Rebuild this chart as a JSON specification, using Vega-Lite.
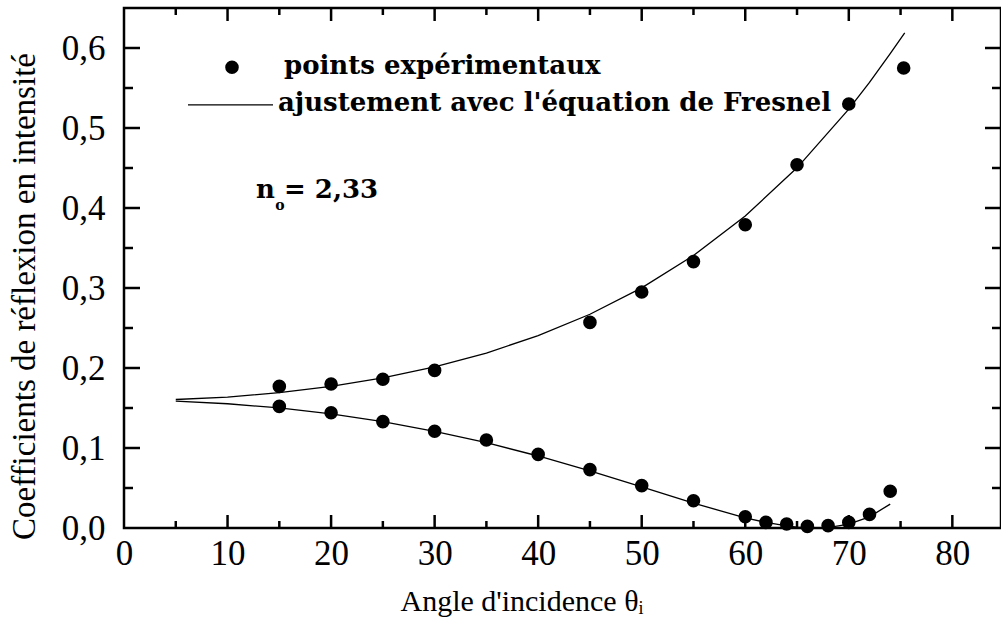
{
  "$schema": "https://vega.github.io/schema/vega-lite/v6.json",
  "width": 877,
  "height": 520,
  "autosize": {"type": "none"},
  "padding": {"left": 124, "top": 8, "right": 0, "bottom": 100},
  "background": "white",
  "config": {
    "view": {"stroke": "black", "strokeWidth": 2.5},
    "axis": {
      "grid": false,
      "domain": false,
      "ticks": false,
      "tickSize": 0,
      "labelFlush": false,
      "labelOverlap": false,
      "labelColor": "black",
      "labelFont": "Liberation Serif",
      "labelFontSize": 35,
      "titleColor": "black",
      "titleFont": "Liberation Serif",
      "titleFontWeight": "normal"
    }
  },
  "datasets": {
    "fit": [
      {"angle": 5, "R": 0.1606, "pol": "s"},
      {"angle": 10, "R": 0.1637, "pol": "s"},
      {"angle": 15, "R": 0.1692, "pol": "s"},
      {"angle": 20, "R": 0.1770, "pol": "s"},
      {"angle": 25, "R": 0.1876, "pol": "s"},
      {"angle": 30, "R": 0.2013, "pol": "s"},
      {"angle": 35, "R": 0.2187, "pol": "s"},
      {"angle": 40, "R": 0.2404, "pol": "s"},
      {"angle": 45, "R": 0.2672, "pol": "s"},
      {"angle": 50, "R": 0.3001, "pol": "s"},
      {"angle": 55, "R": 0.3406, "pol": "s"},
      {"angle": 60, "R": 0.3900, "pol": "s"},
      {"angle": 65, "R": 0.4502, "pol": "s"},
      {"angle": 70, "R": 0.5235, "pol": "s"},
      {"angle": 72, "R": 0.5570, "pol": "s"},
      {"angle": 74, "R": 0.5931, "pol": "s"},
      {"angle": 75.4, "R": 0.6190, "pol": "s"},
      {"angle": 5, "R": 0.1585, "pol": "p"},
      {"angle": 10, "R": 0.1553, "pol": "p"},
      {"angle": 15, "R": 0.1501, "pol": "p"},
      {"angle": 20, "R": 0.1426, "pol": "p"},
      {"angle": 25, "R": 0.1329, "pol": "p"},
      {"angle": 30, "R": 0.1209, "pol": "p"},
      {"angle": 35, "R": 0.1066, "pol": "p"},
      {"angle": 40, "R": 0.0900, "pol": "p"},
      {"angle": 45, "R": 0.0714, "pol": "p"},
      {"angle": 50, "R": 0.0513, "pol": "p"},
      {"angle": 55, "R": 0.0310, "pol": "p"},
      {"angle": 60, "R": 0.0128, "pol": "p"},
      {"angle": 62, "R": 0.0070, "pol": "p"},
      {"angle": 64, "R": 0.0026, "pol": "p"},
      {"angle": 65, "R": 0.0011, "pol": "p"},
      {"angle": 66, "R": 0.0002, "pol": "p"},
      {"angle": 67, "R": 0.0000, "pol": "p"},
      {"angle": 68, "R": 0.0006, "pol": "p"},
      {"angle": 70, "R": 0.0048, "pol": "p"},
      {"angle": 72, "R": 0.0140, "pol": "p"},
      {"angle": 74, "R": 0.0299, "pol": "p"}
    ],
    "exp": [
      {"angle": 15, "R": 0.177, "pol": "s"},
      {"angle": 20, "R": 0.180, "pol": "s"},
      {"angle": 25, "R": 0.186, "pol": "s"},
      {"angle": 30, "R": 0.197, "pol": "s"},
      {"angle": 45, "R": 0.257, "pol": "s"},
      {"angle": 50, "R": 0.295, "pol": "s"},
      {"angle": 55, "R": 0.333, "pol": "s"},
      {"angle": 60, "R": 0.379, "pol": "s"},
      {"angle": 65, "R": 0.454, "pol": "s"},
      {"angle": 70, "R": 0.530, "pol": "s"},
      {"angle": 75.3, "R": 0.575, "pol": "s"},
      {"angle": 15, "R": 0.152, "pol": "p"},
      {"angle": 20, "R": 0.144, "pol": "p"},
      {"angle": 25, "R": 0.133, "pol": "p"},
      {"angle": 30, "R": 0.121, "pol": "p"},
      {"angle": 35, "R": 0.110, "pol": "p"},
      {"angle": 40, "R": 0.092, "pol": "p"},
      {"angle": 45, "R": 0.073, "pol": "p"},
      {"angle": 50, "R": 0.053, "pol": "p"},
      {"angle": 55, "R": 0.034, "pol": "p"},
      {"angle": 60, "R": 0.014, "pol": "p"},
      {"angle": 62, "R": 0.007, "pol": "p"},
      {"angle": 64, "R": 0.005, "pol": "p"},
      {"angle": 66, "R": 0.002, "pol": "p"},
      {"angle": 68, "R": 0.003, "pol": "p"},
      {"angle": 70, "R": 0.007, "pol": "p"},
      {"angle": 72, "R": 0.017, "pol": "p"},
      {"angle": 74, "R": 0.046, "pol": "p"}
    ],
    "xmajor": [{"v": 10}, {"v": 20}, {"v": 30}, {"v": 40}, {"v": 50}, {"v": 60}, {"v": 70}, {"v": 80}],
    "xminor": [{"v": 5}, {"v": 15}, {"v": 25}, {"v": 35}, {"v": 45}, {"v": 55}, {"v": 65}, {"v": 75}],
    "ymajor": [{"v": 0.1}, {"v": 0.2}, {"v": 0.3}, {"v": 0.4}, {"v": 0.5}, {"v": 0.6}],
    "yminor": [{"v": 0.05}, {"v": 0.15}, {"v": 0.25}, {"v": 0.35}, {"v": 0.45}, {"v": 0.55}],
    "one": [{}]
  },
  "layer": [
    {
      "data": {"name": "fit"},
      "mark": {"type": "line", "color": "black", "strokeWidth": 1.3, "clip": true},
      "encoding": {
        "x": {
          "field": "angle", "type": "quantitative",
          "scale": {"domain": [0, 84.7], "nice": false, "zero": false},
          "axis": {
            "orient": "bottom",
            "values": [0, 10, 20, 30, 40, 50, 60, 70, 80],
            "labelPadding": 8,
            "title": "Angle d'incidence θᵢ",
            "titleFontSize": 30,
            "titleAnchor": "start",
            "titleAlign": "left",
            "titleBaseline": "alphabetic",
            "titleX": 276,
            "titleY": 82
          }
        },
        "y": {
          "field": "R", "type": "quantitative",
          "scale": {"domain": [0, 0.65], "nice": false, "zero": false},
          "axis": {
            "orient": "left",
            "values": [0, 0.1, 0.2, 0.3, 0.4, 0.5, 0.6],
            "labelPadding": 19,
            "labelExpr": "replace(format(datum.value, '.1f'), '.', ',')",
            "title": "Coefficients de réflexion en intensité",
            "titleFontSize": 33,
            "titleAngle": -90,
            "titleAlign": "center",
            "titleBaseline": "alphabetic",
            "titleX": -90,
            "titleY": 288
          }
        },
        "detail": {"field": "pol"}
      }
    },
    {
      "data": {"name": "exp"},
      "mark": {"type": "circle", "color": "black", "size": 185, "opacity": 1},
      "encoding": {
        "x": {"field": "angle", "type": "quantitative"},
        "y": {"field": "R", "type": "quantitative"}
      }
    },
    {
      "data": {"name": "xmajor"},
      "mark": {"type": "tick", "orient": "vertical", "color": "black", "size": 13, "thickness": 2.5, "opacity": 1},
      "encoding": {
        "x": {"field": "v", "type": "quantitative"},
        "y": {"datum": 0.0081, "type": "quantitative"}
      }
    },
    {
      "data": {"name": "xmajor"},
      "mark": {"type": "tick", "orient": "vertical", "color": "black", "size": 13, "thickness": 2.5, "opacity": 1},
      "encoding": {
        "x": {"field": "v", "type": "quantitative"},
        "y": {"datum": 0.6419, "type": "quantitative"}
      }
    },
    {
      "data": {"name": "xminor"},
      "mark": {"type": "tick", "orient": "vertical", "color": "black", "size": 7, "thickness": 2.5, "opacity": 1},
      "encoding": {
        "x": {"field": "v", "type": "quantitative"},
        "y": {"datum": 0.0044, "type": "quantitative"}
      }
    },
    {
      "data": {"name": "xminor"},
      "mark": {"type": "tick", "orient": "vertical", "color": "black", "size": 7, "thickness": 2.5, "opacity": 1},
      "encoding": {
        "x": {"field": "v", "type": "quantitative"},
        "y": {"datum": 0.6456, "type": "quantitative"}
      }
    },
    {
      "data": {"name": "ymajor"},
      "mark": {"type": "tick", "orient": "horizontal", "color": "black", "size": 16, "thickness": 2.5, "opacity": 1},
      "encoding": {
        "y": {"field": "v", "type": "quantitative"},
        "x": {"datum": 0.773, "type": "quantitative"}
      }
    },
    {
      "data": {"name": "ymajor"},
      "mark": {"type": "tick", "orient": "horizontal", "color": "black", "size": 16, "thickness": 2.5, "opacity": 1},
      "encoding": {
        "y": {"field": "v", "type": "quantitative"},
        "x": {"datum": 83.927, "type": "quantitative"}
      }
    },
    {
      "data": {"name": "yminor"},
      "mark": {"type": "tick", "orient": "horizontal", "color": "black", "size": 9, "thickness": 2.5, "opacity": 1},
      "encoding": {
        "y": {"field": "v", "type": "quantitative"},
        "x": {"datum": 0.435, "type": "quantitative"}
      }
    },
    {
      "data": {"name": "yminor"},
      "mark": {"type": "tick", "orient": "horizontal", "color": "black", "size": 9, "thickness": 2.5, "opacity": 1},
      "encoding": {
        "y": {"field": "v", "type": "quantitative"},
        "x": {"datum": 84.265, "type": "quantitative"}
      }
    },
    {
      "data": {"name": "one"},
      "mark": {"type": "circle", "color": "black", "size": 185, "opacity": 1},
      "encoding": {
        "x": {"datum": 10.43, "type": "quantitative"},
        "y": {"datum": 0.576, "type": "quantitative"}
      }
    },
    {
      "data": {"name": "one"},
      "mark": {"type": "text", "text": "points expérimentaux", "font": "DejaVu Serif", "fontWeight": "bold", "fontSize": 26, "align": "left", "baseline": "alphabetic", "color": "black"},
      "encoding": {
        "x": {"datum": 15.45, "type": "quantitative"},
        "y": {"datum": 0.5675, "type": "quantitative"}
      }
    },
    {
      "data": {"name": "one"},
      "mark": {"type": "rule", "color": "black", "strokeWidth": 1.3},
      "encoding": {
        "x": {"datum": 6.18, "type": "quantitative"},
        "x2": {"datum": 14.39},
        "y": {"datum": 0.529, "type": "quantitative"}
      }
    },
    {
      "data": {"name": "one"},
      "mark": {"type": "text", "text": "ajustement avec l'équation de Fresnel", "font": "DejaVu Serif", "fontWeight": "bold", "fontSize": 26, "align": "left", "baseline": "alphabetic", "color": "black"},
      "encoding": {
        "x": {"datum": 14.87, "type": "quantitative"},
        "y": {"datum": 0.521, "type": "quantitative"}
      }
    },
    {
      "data": {"name": "one"},
      "mark": {"type": "text", "text": "n", "font": "DejaVu Serif", "fontWeight": "bold", "fontSize": 26, "align": "left", "baseline": "alphabetic", "color": "black"},
      "encoding": {
        "x": {"datum": 12.75, "type": "quantitative"},
        "y": {"datum": 0.4125, "type": "quantitative"}
      }
    },
    {
      "data": {"name": "one"},
      "mark": {"type": "text", "text": "o", "font": "DejaVu Serif", "fontWeight": "bold", "fontSize": 14, "align": "left", "baseline": "alphabetic", "color": "black"},
      "encoding": {
        "x": {"datum": 14.6, "type": "quantitative"},
        "y": {"datum": 0.3975, "type": "quantitative"}
      }
    },
    {
      "data": {"name": "one"},
      "mark": {"type": "text", "text": "= 2,33", "font": "DejaVu Serif", "fontWeight": "bold", "fontSize": 26, "align": "left", "baseline": "alphabetic", "color": "black"},
      "encoding": {
        "x": {"datum": 15.45, "type": "quantitative"},
        "y": {"datum": 0.4125, "type": "quantitative"}
      }
    }
  ]
}
